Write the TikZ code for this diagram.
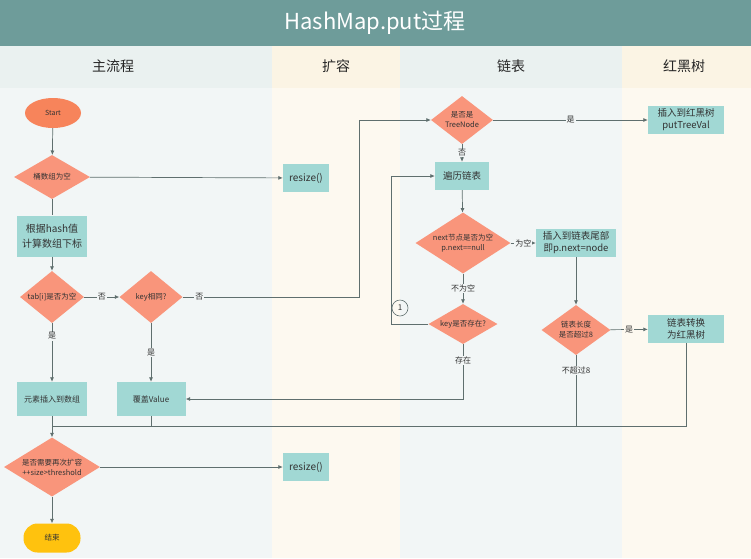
\documentclass[tikz,border=0pt]{standalone}
\usepackage{fontspec}
\setmainfont{Noto Sans CJK SC}
\usetikzlibrary{shapes.geometric, arrows.meta}

\definecolor{titlebar}{HTML}{6E9C9A}
\definecolor{lanea}{HTML}{F2F6F6}
\definecolor{laneb}{HTML}{FDF9F0}
\definecolor{headera}{HTML}{EAF1F0}
\definecolor{headerb}{HTML}{FBF4E4}
\definecolor{decfill}{HTML}{F9957B}
\definecolor{procfill}{HTML}{A1D8D4}
\definecolor{startfill}{HTML}{F7845B}
\definecolor{endfill}{HTML}{FFC20E}
\definecolor{flowline}{HTML}{5F6F6E}
\definecolor{txt}{HTML}{333333}

\begin{document}
\begin{tikzpicture}[x=1pt, y=-1pt,
			box/.style={
				rectangle,
				fill=procfill,
				minimum width=54pt,
				minimum height=28pt,
				inner sep=2pt,
				align=center,
				text=txt,
				font=\fontsize{9.5}{12}\selectfont
			},
			decision/.style={
				diamond,
				fill=decfill,
				inner sep=0pt,
				align=center,
				text=txt,
				font=\fontsize{7.5}{10}\selectfont
			},
			startnode/.style={
				ellipse,
				fill=startfill,
				minimum width=56pt,
				minimum height=30pt,
				inner sep=0pt,
				text=txt,
				font=\fontsize{7}{8}\selectfont
			},
			endnode/.style={
				rectangle,
				rounded corners=14pt,
				fill=endfill,
				minimum width=57pt,
				minimum height=29pt,
				text=txt,
				font=\fontsize{7.5}{9}\selectfont
			},
			lane/.style={
				text=black!85,
				font=\fontsize{14}{16}\selectfont
			},
			lbl/.style={
				fill=lanea,
				inner sep=1pt,
				text=txt,
				font=\fontsize{8}{9}\selectfont
			},
			line/.style={draw=flowline, line width=0.7pt},
			arrow/.style={line, -{Latex[length=4.5pt, width=4pt]}}
			]
			
			\useasboundingbox (0,0) rectangle (751,558);
			
			\fill [lanea] (0,46) rectangle (272,558);
			\fill [laneb] (272,46) rectangle (400,558);
			\fill [lanea] (400,46) rectangle (622,558);
			\fill [laneb] (622,46) rectangle (751,558);
			\fill [headera] (0,46) rectangle (272,88);
			\fill [headerb] (272,46) rectangle (400,88);
			\fill [headera] (400,46) rectangle (622,88);
			\fill [headerb] (622,46) rectangle (751,88);
			\fill [titlebar] (0,0) rectangle (751,46);
			
			\node (title) [text=white, font=\fontsize{22}{24}\selectfont] at (375,23) {HashMap.put过程};
			
			\node (mainlane) [lane] at (113,66) {主流程};
			\node (resizelane) [lane] at (336,66) {扩容};
			\node (listlane) [lane] at (511,66) {链表};
			\node (treelane) [lane] at (684,66) {红黑树};
			
			\node (start) [startnode] at (53,113) {Start};
			\node (empty) [decision, minimum width=76pt, minimum height=44pt, shape aspect=1.7] at (52,177) {桶数组为空};
			\node (resizea) [box, minimum width=46pt, font=\fontsize{10}{12}\selectfont] at (306,178) {resize()};
			\node (index) [box, minimum width=70pt, minimum height=41pt, font=\fontsize{10}{15}\selectfont] at (52,236) {根据hash值\\计算数组下标};
			\node (tabnull) [decision, minimum width=64pt, minimum height=52pt, shape aspect=1.2] at (52,297) {tab[i]是否为空};
			\node (samekey) [decision, minimum width=63pt, minimum height=52pt, shape aspect=1.2] at (151,297) {key相同?};
			\node (insert) [box, minimum width=70pt, minimum height=34pt, font=\fontsize{8}{10}\selectfont] at (52,399) {元素插入到数组};
			\node (cover) [box, minimum width=69pt, minimum height=34pt, font=\fontsize{8}{10}\selectfont] at (151,399) {覆盖Value};
			\node (again) [decision, minimum width=96pt, minimum height=59pt, shape aspect=1.63] at (52,467) {是否需要再次扩容\\++size>threshold};
			\node (resizeb) [box, minimum width=46pt, font=\fontsize{10}{12}\selectfont] at (306,467) {resize()};
			\node (finish) [endnode] at (52,538) {结束};
			
			\node (treenode) [decision, minimum width=62pt, minimum height=48pt, shape aspect=1.3] at (462,120) {是否是\\TreeNode};
			\node (puttree) [box, minimum width=76pt] at (686,120) {插入到红黑树\\putTreeVal};
			\node (traverse) [box, minimum width=54pt] at (462,176) {遍历链表};
			\node (nextnull) [decision, minimum width=95pt, minimum height=61pt, shape aspect=1.56] at (463,243) {next节点是否为空\\p.next==null};
			\node (append) [box, minimum width=80pt] at (576,243) {插入到链表尾部\\即p.next=node};
			\node (keyexist) [decision, minimum width=69pt, minimum height=40pt, shape aspect=1.7] at (463,324) {key是否存在?};
			\node (overeight) [decision, minimum width=69pt, minimum height=50pt, shape aspect=1.4] at (576,330) {链表长度\\是否超过8};
			\node (treeify) [box, minimum width=76pt] at (686,329) {链表转换\\为红黑树};
			\node (loopmark) [circle, draw=flowline, line width=0.6pt, minimum size=16pt, inner sep=0pt, text=txt, font=\fontsize{8}{9}\selectfont] at (400,308) {1};
			
			\coordinate (bendtree) at (359,120);
			\coordinate (loopcorner) at (391,324);
			\coordinate (merge) at (52,426);
			
			\draw [arrow] (start) -- (empty);
			\draw [arrow] (empty) -- (resizea);
			\draw [line] (empty) -- (index);
			\draw [arrow] (index) -- (tabnull);
			\draw [arrow] (tabnull) -- node [lbl] {否} (samekey);
			\draw [arrow] (tabnull) -- node [lbl, pos=0.22] {是} (insert);
			\draw [arrow] (samekey) -- node [lbl] {是} (cover);
			\draw [arrow] (samekey.east) -| node [lbl, pos=0.047] {否} (bendtree) -- (treenode.west);
			
			\draw [arrow] (treenode) -- node [lbl] {是} (puttree);
			\draw [arrow] (treenode) -- node [lbl] {否} (traverse);
			\draw [arrow] (traverse) -- (nextnull);
			\draw [arrow] (nextnull) -- node [lbl] {为空} (append);
			\draw [arrow] (nextnull) -- node [lbl] {不为空} (keyexist);
			\draw [arrow] (keyexist) -- (loopcorner) |- (traverse);
			\draw [arrow] (keyexist) |- node [lbl, pos=0.15] {存在} (cover);
			\draw [arrow] (append) -- (overeight);
			\draw [arrow] (overeight) -- node [lbl, fill=laneb] {是} (treeify);
			
			\draw [line] (overeight) |- node [lbl, pos=0.11] {不超过8} (merge);
			\draw [line] (treeify) |- (merge);
			\draw [line] (insert) -- (merge);
			\draw [line] (cover) |- (merge);
			\draw [arrow] (merge) -- (again);
			\draw [arrow] (again) -- (resizeb);
			\draw [arrow] (again) -- (finish);
			
		\end{tikzpicture}
\end{document}
